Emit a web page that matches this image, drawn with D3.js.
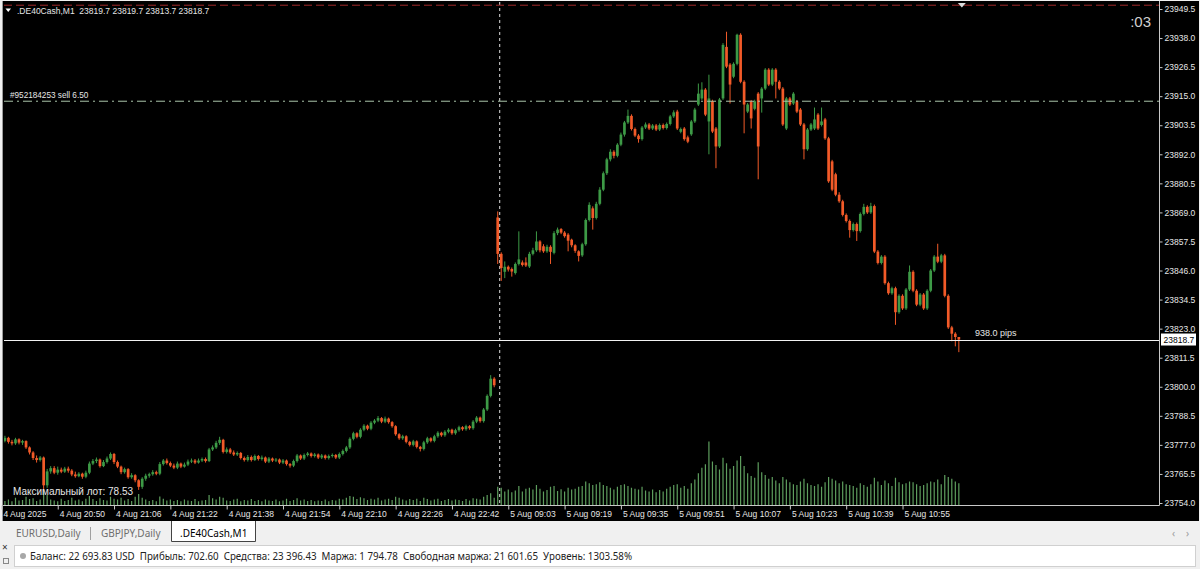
<!DOCTYPE html>
<html><head><meta charset="utf-8">
<script src="https://cdn.jsdelivr.net/npm/d3@7"></script>
<style>html,body{margin:0;padding:0;background:#f0f0f0;overflow:hidden}svg{display:block}</style>
</head><body><svg id="c" width="1200" height="569"></svg>
<script>
// ---------- DATA ----------
const opens=[
23779.5,23778.6,23779.8,23778.2,23777.6,23779.2,23777.9,23778.5,23776.0,23774.0,
23771.8,23771.0,23772.0,23761.0,23766.5,23767.8,23766.0,23767.2,23766.4,23767.6,
23766.8,23765.3,23764.6,23765.6,23764.4,23766.0,23769.6,23770.6,23771.2,23768.6,
23770.2,23771.6,23773.4,23770.2,23768.4,23766.2,23767.4,23764.2,23765.0,23763.0,
23760.4,23763.6,23764.8,23765.4,23766.2,23765.6,23769.4,23770.8,23769.8,23768.8,
23768.0,23769.6,23768.4,23769.2,23770.4,23770.8,23770.0,23770.8,23771.4,23770.6,
23775.2,23776.0,23777.8,23779.0,23774.2,23775.2,23774.0,23773.2,23773.8,23771.8,
23771.0,23772.2,23771.0,23772.6,23771.4,23772.0,23770.4,23771.6,23770.8,23771.2,
23770.0,23770.8,23769.4,23768.8,23770.6,23772.8,23771.6,23773.0,23773.6,23772.6,
23773.2,23772.0,23772.8,23771.8,23772.6,23773.0,23772.0,23773.4,23774.6,23776.0,
23779.4,23781.6,23780.2,23783.0,23784.6,23783.4,23785.8,23786.6,23787.6,23786.2,
23787.4,23786.0,23784.4,23781.2,23779.6,23780.4,23778.2,23777.0,23778.4,23776.2,
23775.4,23778.0,23779.6,23778.6,23780.4,23781.8,23780.8,23782.2,23783.0,23781.6,
23782.8,23784.0,23783.2,23784.4,23783.6,23786.2,23787.8,23786.4,23791.0,23796.4,
23803.2,23867.0,23852.6,23845.5,23847.5,23846.6,23845.0,23848.6,23849.2,23849.2,
23847.6,23852.6,23854.0,23857.5,23855.6,23853.6,23855.4,23853.0,23860.8,23862.4,
23861.0,23860.2,23858.2,23856.0,23853.6,23852.0,23856.4,23866.0,23870.6,23866.8,
23872.4,23878.0,23884.5,23890.0,23893.0,23891.4,23895.8,23899.8,23904.6,23907.2,
23902.0,23899.4,23898.0,23902.6,23903.8,23902.2,23903.4,23901.8,23903.6,23902.4,
23904.0,23907.0,23908.9,23900.9,23902.2,23898.7,23899.9,23905.0,23911.7,23914.1,
23917.6,23905.0,23913.0,23902.2,23895.1,23914.1,23934.5,23927.5,23922.7,23927.8,
23939.3,23920.7,23908.9,23912.9,23910.0,23916.0,23914.1,23918.0,23925.5,23919.6,
23925.5,23920.7,23918.0,23902.2,23914.1,23912.1,23912.9,23909.7,23903.8,23894.0,
23901.8,23902.2,23907.7,23903.6,23905.8,23898.3,23889.2,23884.1,23876.0,23873.4,
23868.0,23865.6,23862.0,23864.4,23861.6,23868.4,23871.2,23869.0,23871.5,23853.5,
23849.0,23851.5,23841.0,23837.0,23839.0,23829.5,23836.0,23831.0,23838.5,23845.5,
23838.0,23832.5,23836.5,23831.0,23838.0,23846.0,23851.5,23849.5,23852.0,23836.0,
23823.5,23821.0,23819.7];
const highs=[
23780.5,23780.6,23780.2,23779.0,23779.8,23779.6,23779.0,23778.8,23776.4,23774.5,
23772.8,23772.6,23772.4,23767.5,23768.6,23768.6,23768.4,23768.0,23768.3,23768.4,
23767.4,23766.4,23766.2,23766.0,23766.8,23770.4,23771.4,23772.0,23771.6,23771.0,
23772.4,23774.0,23773.8,23770.8,23768.8,23768.0,23767.8,23765.8,23765.4,23763.4,
23764.2,23765.6,23766.0,23767.0,23766.8,23770.2,23771.4,23771.6,23770.4,23769.6,
23770.4,23770.0,23770.0,23771.2,23771.6,23771.4,23771.6,23772.0,23772.0,23775.8,
23776.8,23778.6,23780.2,23779.4,23776.0,23775.8,23774.8,23774.4,23774.2,23772.4,
23773.0,23772.8,23773.2,23773.0,23772.8,23772.4,23772.2,23772.0,23771.8,23771.6,
23771.4,23771.2,23769.8,23771.2,23773.4,23773.2,23773.6,23774.2,23774.0,23773.8,
23773.6,23773.4,23773.2,23773.2,23773.6,23773.4,23774.0,23775.2,23776.6,23780.0,
23782.2,23782.0,23783.6,23785.2,23785.0,23786.4,23787.2,23788.4,23788.0,23788.2,
23787.8,23786.4,23784.8,23781.6,23781.0,23780.8,23778.6,23779.0,23778.8,23776.6,
23778.6,23780.2,23780.0,23781.0,23782.4,23782.2,23782.8,23783.6,23783.4,23783.4,
23784.6,23784.4,23785.0,23784.8,23786.8,23788.4,23788.2,23791.6,23797.0,23804.6,
23803.8,23869.4,23853.2,23849.6,23848.0,23847.2,23849.2,23861.5,23850.0,23851.2,
23853.4,23855.0,23861.5,23858.0,23856.4,23856.2,23856.0,23861.6,23863.0,23862.8,
23861.6,23860.8,23858.6,23856.4,23854.0,23857.0,23866.6,23873.0,23871.4,23873.2,
23879.0,23885.2,23890.6,23894.0,23893.6,23896.4,23900.6,23905.2,23909.7,23907.8,
23902.6,23900.0,23903.2,23904.6,23904.4,23904.0,23904.0,23904.2,23904.2,23904.6,
23907.6,23909.4,23909.6,23902.6,23902.8,23899.4,23905.6,23910.4,23920.0,23920.5,
23918.2,23923.5,23913.6,23902.8,23914.3,23936.0,23940.5,23928.1,23928.4,23939.7,
23939.9,23921.3,23912.3,23913.5,23913.6,23916.6,23918.6,23926.1,23926.1,23926.1,
23926.1,23921.3,23918.6,23914.7,23914.7,23916.6,23913.5,23910.3,23904.4,23902.4,
23904.4,23910.5,23908.3,23910.5,23906.4,23898.9,23889.8,23884.7,23877.0,23874.0,
23868.6,23866.2,23865.0,23865.0,23869.0,23872.4,23871.8,23872.8,23872.1,23854.1,
23852.1,23852.1,23841.6,23839.6,23839.6,23836.6,23836.6,23839.1,23848.0,23846.1,
23838.6,23837.1,23837.1,23838.6,23846.6,23852.1,23856.6,23852.6,23852.6,23836.6,
23824.1,23821.6,23819.7];
const lows=[
23777.8,23778.0,23777.5,23776.8,23777.0,23777.2,23777.0,23775.4,23773.2,23771.0,
23770.0,23770.4,23758.5,23760.0,23765.6,23765.4,23765.2,23765.8,23765.9,23766.0,
23764.6,23764.0,23764.2,23763.6,23763.8,23765.4,23769.0,23769.8,23768.0,23768.2,
23769.6,23771.0,23769.4,23767.8,23765.4,23765.6,23763.6,23763.6,23762.2,23759.2,
23759.6,23762.8,23764.0,23764.8,23765.0,23765.0,23768.8,23769.2,23768.2,23767.4,
23767.4,23767.8,23768.0,23768.6,23769.8,23769.4,23769.6,23770.2,23770.0,23770.2,
23774.6,23775.4,23777.0,23773.6,23773.6,23773.4,23772.6,23772.6,23771.2,23770.4,
23770.4,23770.4,23770.6,23770.8,23770.8,23769.8,23769.8,23770.2,23770.2,23769.4,
23769.4,23768.8,23768.0,23768.2,23770.0,23771.0,23771.0,23772.4,23772.0,23772.0,
23771.4,23771.4,23771.2,23771.2,23772.0,23771.4,23771.4,23772.8,23774.0,23775.4,
23778.8,23779.6,23779.6,23782.4,23782.8,23782.8,23785.2,23786.0,23785.6,23785.6,
23785.4,23783.8,23780.6,23779.0,23779.0,23777.6,23776.4,23776.4,23775.6,23774.4,
23774.8,23777.4,23778.0,23778.0,23779.8,23780.2,23780.2,23781.6,23781.0,23781.0,
23782.2,23782.6,23782.6,23783.0,23783.0,23785.6,23785.8,23785.8,23790.4,23795.8,
23799.8,23848.6,23841.9,23843.0,23845.6,23843.6,23844.4,23848.0,23847.6,23847.4,
23847.0,23852.0,23853.4,23853.2,23853.0,23853.0,23848.6,23852.4,23860.0,23860.4,
23859.0,23853.6,23855.2,23853.0,23849.6,23851.4,23855.8,23865.4,23862.2,23866.2,
23871.8,23877.4,23883.8,23889.2,23890.4,23890.8,23895.2,23899.0,23904.0,23901.4,
23898.8,23896.6,23897.4,23902.0,23901.6,23901.6,23901.2,23901.2,23901.8,23901.8,
23903.4,23906.4,23901.6,23900.3,23897.4,23896.4,23899.3,23904.4,23911.1,23913.5,
23907.1,23892.0,23900.4,23886.5,23894.5,23913.5,23926.1,23912.1,23922.1,23927.2,
23920.1,23900.3,23908.3,23902.2,23909.4,23882.1,23908.5,23917.4,23919.0,23919.0,
23914.1,23917.4,23903.2,23901.6,23911.1,23911.5,23908.3,23903.2,23890.0,23893.4,
23901.2,23901.6,23901.6,23903.0,23897.7,23880.7,23877.4,23875.4,23872.8,23867.4,
23865.0,23859.0,23861.4,23857.7,23861.0,23867.8,23868.4,23868.4,23852.9,23848.4,
23848.4,23840.4,23836.4,23836.4,23824.5,23828.9,23830.4,23830.4,23837.9,23837.4,
23831.9,23831.9,23830.4,23830.4,23837.4,23845.4,23848.9,23848.9,23835.4,23822.9,
23818.0,23816.0,23813.7];
const closes=[
23778.6,23779.8,23778.2,23777.6,23779.2,23777.9,23778.5,23776.0,23774.0,23771.8,
23771.0,23772.0,23761.0,23766.5,23767.8,23766.0,23767.2,23766.4,23767.6,23766.8,
23765.3,23764.6,23765.6,23764.4,23766.0,23769.6,23770.6,23771.2,23768.6,23770.2,
23771.6,23773.4,23770.2,23768.4,23766.2,23767.4,23764.2,23765.0,23763.0,23760.4,
23763.6,23764.8,23765.4,23766.2,23765.6,23769.4,23770.8,23769.8,23768.8,23768.0,
23769.6,23768.4,23769.2,23770.4,23770.8,23770.0,23770.8,23771.4,23770.6,23775.2,
23776.0,23777.8,23779.0,23774.2,23775.2,23774.0,23773.2,23773.8,23771.8,23771.0,
23772.2,23771.0,23772.6,23771.4,23772.0,23770.4,23771.6,23770.8,23771.2,23770.0,
23770.8,23769.4,23768.8,23770.6,23772.8,23771.6,23773.0,23773.6,23772.6,23773.2,
23772.0,23772.8,23771.8,23772.6,23773.0,23772.0,23773.4,23774.6,23776.0,23779.4,
23781.6,23780.2,23783.0,23784.6,23783.4,23785.8,23786.6,23787.6,23786.2,23787.4,
23786.0,23784.4,23781.2,23779.6,23780.4,23778.2,23777.0,23778.4,23776.2,23775.4,
23778.0,23779.6,23778.6,23780.4,23781.8,23780.8,23782.2,23783.0,23781.6,23782.8,
23784.0,23783.2,23784.4,23783.6,23786.2,23787.8,23786.4,23791.0,23796.4,23803.2,
23800.6,23852.6,23847.0,23847.5,23846.4,23845.6,23848.6,23850.4,23848.2,23848.0,
23852.6,23854.0,23857.5,23854.0,23853.6,23855.4,23853.4,23860.8,23862.2,23861.0,
23859.6,23857.8,23856.0,23853.8,23851.8,23856.4,23866.0,23872.0,23866.8,23872.4,
23878.0,23884.5,23890.0,23893.0,23891.4,23895.8,23899.8,23904.6,23907.2,23902.0,
23899.4,23898.0,23902.6,23903.8,23902.2,23903.4,23901.8,23903.6,23902.4,23904.0,
23907.0,23908.6,23902.2,23902.0,23898.0,23897.0,23905.0,23909.7,23916.0,23917.6,
23907.7,23914.1,23901.0,23895.1,23913.7,23935.3,23926.7,23919.6,23927.8,23939.3,
23920.7,23911.7,23911.7,23906.2,23913.0,23895.1,23918.0,23925.5,23919.6,23925.5,
23920.7,23918.0,23903.8,23914.1,23911.7,23916.0,23908.9,23903.8,23894.0,23901.8,
23903.8,23905.8,23902.2,23905.0,23898.3,23881.3,23878.0,23876.0,23873.4,23868.0,
23865.6,23862.0,23864.4,23861.6,23868.4,23871.2,23869.0,23871.5,23853.5,23849.0,
23851.5,23841.0,23837.0,23839.0,23829.5,23836.0,23831.0,23838.5,23845.5,23838.0,
23832.5,23836.5,23831.0,23838.0,23846.0,23851.5,23849.5,23852.0,23836.0,23823.5,
23821.0,23819.7,23818.7];
const volumes=[
14,9,12,8,16,10,11,18,13,15, 9,12,34,22,12,10,8,14,9,11,
16,10,12,8,14,20,13,9,15,11, 10,18,14,12,16,10,13,9,18,24,
16,12,9,11,8,19,14,10,12,9, 11,8,12,10,9,13,8,10,11,22,
15,12,18,16,10,9,12,14,8,11, 10,13,9,11,8,12,10,9,12,8,
10,14,9,11,15,10,12,9,11,8, 10,9,12,8,11,10,14,12,16,20,
18,13,17,15,11,14,12,16,10,12, 14,11,18,16,12,10,13,11,14,9,
16,13,10,12,14,9,11,13,10,12, 11,9,13,10,15,14,12,18,22,26,
16,40,38,30,34,28,32,42,30,36, 38,34,44,36,30,33,40,42,31,35,
30,38,34,36,40,42,52,48,44,46, 50,44,42,38,34,40,44,46,42,38,
36,34,40,32,30,34,28,33,30,36, 40,44,46,38,42,36,48,56,70,82,
90,140,96,88,78,104,92,80,86,98, 108,86,70,64,60,94,72,66,58,62,
54,48,62,56,50,46,44,52,58,48, 44,42,46,40,50,62,58,54,48,52,
46,44,42,38,48,44,40,46,60,52, 44,54,48,42,60,50,46,48,52,50,
46,42,44,48,52,50,56,46,66,62, 58,52,48];
const timeTickBars=[0,16,32,48,64,80,96,112,128,144,160,176,192,208,224,240,256];
const timeTickLabels=["4 Aug 2025","4 Aug 20:50","4 Aug 21:06","4 Aug 21:22","4 Aug 21:38","4 Aug 21:54",
"4 Aug 22:10","4 Aug 22:26","4 Aug 22:42","5 Aug 09:03","5 Aug 09:19","5 Aug 09:35","5 Aug 09:51",
"5 Aug 10:07","5 Aug 10:23","5 Aug 10:39","5 Aug 10:55"];
const priceTicks=[23754.0,23765.5,23777.0,23788.5,23800.0,23811.5,23823.0,23834.5,23846.0,23857.5,
23869.0,23880.5,23892.0,23903.5,23915.0,23926.5,23938.0,23949.5];
const dayStartBar=141;
const bidPrice=23818.7, sellPrice=23913.0, stopPrice=23951.0;
const headerText=".DE40Cash,M1  23819.7 23819.7 23813.7 23818.7";
const orderText="#952184253 sell 6.50";
const pipsText="938.0 pips";
const maxLotText="Максимальный лот: 78.53";
const timerText=":03";
const tabs=["EURUSD,Daily","GBPJPY,Daily",".DE40Cash,M1"];
const statusText="Баланс: 22 693.83 USD  Прибыль: 702.60  Средства: 23 396.43  Маржа: 1 794.78  Свободная маржа: 21 601.65  Уровень: 1303.58%";

// ---------- DRAW ----------
const svg=d3.select("#c");
const F="'Liberation Sans', Arial, sans-serif";
const UP="#3d9a46", DN="#f25a28", VOL="#5e9e5e", AX="#c8c8c8", TX="#e6e6e6";
const plotL=4, plotR=1159.5, plotT=2, plotB=505.5;
const N=closes.length;
const x=d3.scaleLinear().domain([0,N-1]).range([1.4,1.4+3.52*(N-1)]);
const y=d3.scaleLinear().domain([23754,23949.5]).range([503,9]);
const yv=d3.scaleLinear().domain([0,140]).range([plotB-0.5,plotB-64]);

svg.append("rect").attr("width",1200).attr("height",569).attr("fill","#f0f0f0");
svg.append("rect").attr("x",2).attr("y",1).attr("width",1197).attr("height",520).attr("fill","#000");
svg.append("line").attr("x1",2.5).attr("x2",2.5).attr("y1",1).attr("y2",521).attr("stroke","#9a9a9a");

const defs=svg.append("defs");
defs.append("clipPath").attr("id","pc").append("rect").attr("x",plotL).attr("y",plotT).attr("width",plotR-plotL).attr("height",plotB-plotT);
const g=svg.append("g").attr("clip-path","url(#pc)");

// period separator
g.append("line").attr("x1",x(dayStartBar)+2).attr("x2",x(dayStartBar)+2).attr("y1",plotT).attr("y2",plotB)
 .attr("stroke","#e0e0e0").attr("stroke-dasharray","3,3");

// volumes
g.selectAll("line.v").data(volumes).join("line").attr("class","v")
 .attr("x1",(d,i)=>x(i)).attr("x2",(d,i)=>x(i)).attr("y1",plotB-0.5).attr("y2",d=>yv(d))
 .attr("stroke",VOL).attr("stroke-width",1.2);

// candles
const idx=d3.range(N);
g.selectAll("line.w").data(idx).join("line").attr("class","w")
 .attr("x1",i=>x(i)).attr("x2",i=>x(i)).attr("y1",i=>y(highs[i])).attr("y2",i=>y(lows[i]))
 .attr("stroke",i=>closes[i]>=opens[i]?UP:DN).attr("stroke-width",1);
g.selectAll("rect.b").data(idx).join("rect").attr("class","b")
 .attr("x",i=>x(i)-1.35).attr("width",2.7)
 .attr("y",i=>y(Math.max(opens[i],closes[i])))
 .attr("height",i=>Math.max(1,Math.abs(y(opens[i])-y(closes[i]))))
 .attr("fill",i=>closes[i]>=opens[i]?UP:DN);

// stop line (top, red dashed)
g.append("line").attr("x1",plotL).attr("x2",plotR).attr("y1",y(stopPrice)).attr("y2",y(stopPrice))
 .attr("stroke","#a02828").attr("stroke-dasharray","8,4");
// sell order line
g.append("line").attr("x1",plotL).attr("x2",plotR).attr("y1",y(sellPrice)).attr("y2",y(sellPrice))
 .attr("stroke","#a9c4a9").attr("stroke-dasharray","9,4,2,4");
// bid line
svg.append("line").attr("x1",plotL).attr("x2",plotR).attr("y1",Math.round(y(bidPrice))+0.5).attr("y2",Math.round(y(bidPrice))+0.5)
 .attr("stroke","#f2f2f2");

// frame
svg.append("line").attr("x1",plotR).attr("x2",plotR).attr("y1",1).attr("y2",plotB).attr("stroke",AX);
svg.append("line").attr("x1",plotL-1).attr("x2",plotR).attr("y1",plotB).attr("y2",plotB).attr("stroke",AX);

// price axis
const ya=svg.append("g").attr("transform",`translate(${plotR},0)`)
 .call(d3.axisRight(y).tickValues(priceTicks).tickSize(3).tickPadding(2).tickFormat(d3.format(".1f")));
ya.select(".domain").remove();
ya.selectAll("line").attr("stroke",AX);
ya.selectAll("text").attr("fill",TX).style("font-family",F).style("font-size","8.5px");

// current price label
const by=y(bidPrice);
svg.append("rect").attr("x",1160.5).attr("y",by-6.5).attr("width",36).attr("height",13).attr("fill","#fff").attr("stroke","#000");
svg.append("text").attr("x",1163.5).attr("y",by+3).text(bidPrice.toFixed(1)).attr("fill","#000")
 .style("font-family",F).style("font-size","8.5px");

// time axis
const xa=svg.append("g").attr("transform",`translate(0,${plotB})`)
 .call(d3.axisBottom(x).tickValues(timeTickBars).tickSize(4).tickFormat((d,i)=>timeTickLabels[i]));
xa.select(".domain").remove();
xa.selectAll("line").attr("stroke",AX);
xa.selectAll("text").attr("fill",TX).attr("text-anchor","start").attr("x",1.5).attr("y",11).attr("dy",0)
 .style("font-family",F).style("font-size","8.5px");

// chart texts
svg.append("path").attr("d","M5.5,8.5 L11,8.5 L8.25,12 Z").attr("fill","#fff");
svg.append("text").attr("x",17).attr("y",14).text(headerText).attr("fill",TX).attr("xml:space","preserve")
 .style("font-family",F).style("font-size","8.5px").style("white-space","pre");
svg.append("text").attr("x",1151).attr("y",27).attr("text-anchor","end").text(timerText).attr("fill","#d0d0d0")
 .style("font-family",F).style("font-size","15px");
svg.append("text").attr("x",10).attr("y",y(sellPrice)-3).text(orderText).attr("fill",TX)
 .style("font-family",F).style("font-size","8.2px");
svg.append("text").attr("x",975).attr("y",by-4).text(pipsText).attr("fill",TX)
 .style("font-family",F).style("font-size","9px");
svg.append("text").attr("x",13).attr("y",495).text(maxLotText).attr("fill",TX)
 .style("font-family",F).style("font-size","10px");
// chart shift marker
svg.append("path").attr("d",`M${x(N-1)-1},3 L${x(N-1)+7},3 L${x(N-1)+3},7.5 Z`).attr("fill","#dcdcdc");

// tabs
const TF="'Noto Sans','Open Sans',sans-serif";
svg.append("rect").attr("x",0).attr("y",521).attr("width",1200).attr("height",22).attr("fill","#f0f0f0");
svg.append("text").attr("x",16).attr("y",537).text(tabs[0]).attr("fill","#6e6e6e").style("font-family",TF).style("font-size","10px");
svg.append("line").attr("x1",90.5).attr("x2",90.5).attr("y1",527).attr("y2",540).attr("stroke","#a0a0a0");
svg.append("text").attr("x",101).attr("y",537).text(tabs[1]).attr("fill","#6e6e6e").style("font-family",TF).style("font-size","10px");
svg.append("path").attr("d","M171.5,521 L171.5,541.5 L255.5,541.5 L255.5,521").attr("fill","#fff").attr("stroke","#444");
svg.append("text").attr("x",180).attr("y",537).text(tabs[2]).attr("fill","#000").style("font-family",TF).style("font-size","10px");
svg.append("text").attr("x",1172).attr("y",537).text("‹").attr("fill","#9a9a9a").style("font-family",TF).style("font-size","10px");
svg.append("text").attr("x",1186).attr("y",537).text("›").attr("fill","#9a9a9a").style("font-family",TF).style("font-size","10px");

// status bar
svg.append("rect").attr("x",14.5).attr("y",545.5).attr("width",1181).attr("height",21).attr("fill","#fff").attr("stroke","#d0d0d0");
svg.append("text").attr("x",2).attr("y",551).text("×").attr("fill","#333").style("font-family",TF).style("font-size","10px");
svg.append("rect").attr("x",3.5).attr("y",558.5).attr("width",5).attr("height",5).attr("fill","none").attr("stroke","#888");
svg.append("circle").attr("cx",23).attr("cy",556).attr("r",3).attr("fill","#a8a8a8");
svg.append("text").attr("x",30).attr("y",560).text(statusText).attr("fill","#222").attr("xml:space","preserve")
 .attr("textLength",602).attr("lengthAdjust","spacingAndGlyphs")
 .style("font-family",TF).style("font-size","10.5px").style("white-space","pre");
</script></body></html>
